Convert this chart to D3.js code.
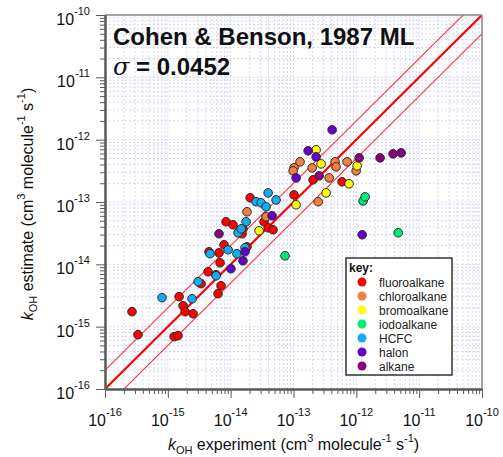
<!DOCTYPE html>
<html><head><meta charset="utf-8">
<script src="https://cdn.jsdelivr.net/npm/d3@7"></script>
<style>
body{margin:0;background:#fff}
svg{display:block}
text{font-family:"Liberation Sans",Arial,Helvetica,sans-serif}
</style>
</head><body>
<svg id="c" width="503" height="457"></svg>
<script>
// ---- data: [kOH experiment, kOH estimate] (cm3 molecule-1 s-1)
const fluoroalkane = [
  [2.69e-16,1.74e-15],[3.35e-16,7.44e-16],[1.26e-15,6.92e-16],[1.45e-15,7.18e-16],
  [1.51e-15,3.03e-15],[1.75e-15,2.17e-15],[1.88e-15,1.74e-15],[2.52e-15,1.61e-15],
  [3.38e-15,4.89e-15],[4.37e-15,7.60e-15],[4.53e-15,1.59e-14],[5.86e-15,6.81e-15],
  [6.29e-15,3.38e-15],[7.03e-15,4.54e-15],[6.78e-15,1.06e-14],[6.53e-15,1.53e-14],
  [7.85e-15,2.06e-14],[8.45e-15,4.82e-14],[1.09e-14,4.31e-14],[1.57e-14,3.72e-14],
  [1.52e-14,3.09e-14],[2.04e-14,1.17e-13],[3.40e-14,4.82e-14],[3.95e-14,3.86e-14],
  [4.73e-14,3.58e-14],[1.02e-13,1.30e-13],[2.05e-13,2.27e-13],[5.94e-13,2.11e-13],
  [1.82e-14,1.91e-14]
];
const chloroalkane = [
  [1.82e-14,6.97e-14],[3.66e-14,5.79e-14],[1.02e-13,3.53e-13],[9.86e-14,3.16e-13],
  [1.27e-13,4.41e-13],[1.98e-13,3.53e-13],[3.69e-13,2.44e-13],[4.59e-13,4.41e-13],
  [4.76e-13,3.66e-13],[7.14e-13,4.41e-13],[9.93e-13,3.16e-13],[2.47e-13,1.01e-13]
];
const bromoalkane = [
  [2.83e-14,3.45e-14],[1.10e-13,9.02e-14],[2.29e-13,6.87e-13],[2.75e-13,4.09e-13],
  [1.03e-12,3.80e-13],[7.67e-13,1.96e-13],[3.30e-13,1.40e-13]
];
const iodoalkane = [
  [7.34e-14,1.37e-14],[1.28e-12,1.04e-13],[1.38e-12,1.21e-13],[4.64e-12,3.21e-14]
];
const hcfc = [
  [8.09e-16,2.92e-15],[2.43e-15,2.81e-15],[3.03e-15,5.26e-15],[5.86e-15,6.56e-15],
  [4.70e-15,1.48e-14],[9.10e-15,1.71e-14],[1.26e-14,1.48e-14],[1.31e-14,3.21e-14],
  [1.47e-14,3.72e-14],[1.76e-14,4.82e-14],[1.69e-14,1.85e-14],[2.53e-14,1.01e-13],
  [3.05e-14,9.71e-14],[3.66e-14,8.38e-14],[3.95e-14,1.40e-13],[5.28e-14,1.08e-13]
];
const halon = [
  [1.01e-14,8.50e-15],[1.57e-14,1.14e-14],[1.69e-14,1.59e-14],[4.56e-14,6.01e-14],
  [1.10e-13,2.44e-13],[1.71e-13,6.62e-13],[2.29e-13,5.30e-13],[4.12e-13,1.44e-12],
  [1.24e-12,2.98e-14]
];
const alkane = [
  [6.53e-15,3.09e-14],[2.56e-13,2.63e-13],[1.11e-12,5.11e-13],[2.39e-12,5.11e-13],
  [3.85e-12,5.92e-13],[5.16e-12,6.14e-13]
];
const seriesNames = ["fluoroalkane","chloroalkane","bromoalkane","iodoalkane","HCFC","halon","alkane"];
const seriesData = [fluoroalkane, chloroalkane, bromoalkane, iodoalkane, hcfc, halon, alkane];
const seriesColors = ["#ff0000","#f4803f","#ffff00","#00ee77","#10aef0","#6600cc","#8b007f"];
const tickExponents = [-16,-15,-14,-13,-12,-11,-10];
const lineFactors = [0.5, 1, 2];
const titleText = "Cohen & Benson, 1987 ML";
const sigmaText = "= 0.0452";

// ---- layout
const L = 105, R = 482, T = 15, B = 389;
const svg = d3.select("#c");
const x = d3.scaleLog().domain([1e-16,1e-10]).range([L,R]);
const y = d3.scaleLog().domain([1e-16,1e-10]).range([B,T]);

// grid values
const gridVals = [];
tickExponents.forEach(k => { for (let m=1;m<=9;m++){ const v=m*Math.pow(10,k); if (v<=1.0000001e-10) gridVals.push(v);} });
const minorVals = gridVals.filter(v => !tickExponents.some(k => Math.abs(v/Math.pow(10,k)-1)<1e-6));
const majorVals = tickExponents.map(k => Math.pow(10,k));

const grid = svg.append("g");
grid.selectAll("line.gv").data(gridVals).enter().append("line")
  .attr("x1", d=>x(d)).attr("x2", d=>x(d)).attr("y1",T).attr("y2",B)
  .attr("stroke","#d6d6f7").attr("stroke-width",1).attr("stroke-dasharray","2,2");
grid.selectAll("line.gh").data(gridVals).enter().append("line")
  .attr("y1", d=>y(d)).attr("y2", d=>y(d)).attr("x1",L).attr("x2",R)
  .attr("stroke","#d6d6f7").attr("stroke-width",1).attr("stroke-dasharray","2,2");

// reference lines
const defs = svg.append("defs");
defs.append("clipPath").attr("id","pc").append("rect").attr("x",L).attr("y",T).attr("width",R-L).attr("height",B-T);
const lg = svg.append("g").attr("clip-path","url(#pc)");
lineFactors.forEach(f => {
  lg.append("line")
    .attr("x1", x(1e-17)).attr("y1", y(1e-17*f))
    .attr("x2", x(1e-9)).attr("y2", y(1e-9*f))
    .attr("stroke", "#ff0000")
    .attr("stroke-opacity", f===1 ? 1 : 0.8)
    .attr("stroke-width", f===1 ? 2.2 : 1.1);
});

// points
const pg = svg.append("g");
seriesData.forEach((arr,i) => {
  pg.selectAll(null).data(arr).enter().append("circle")
    .attr("cx", d=>x(d[0])).attr("cy", d=>y(d[1])).attr("r",4.3)
    .attr("fill", seriesColors[i]).attr("stroke","#2a2a2a").attr("stroke-width",1);
});

// frame top/right
svg.append("line").attr("x1",L).attr("x2",R).attr("y1",T).attr("y2",T).attr("stroke","#8a8a8a").attr("stroke-width",1.5);
svg.append("line").attr("x1",R).attr("x2",R).attr("y1",T).attr("y2",B).attr("stroke","#8a8a8a").attr("stroke-width",1.5);

// axes: minor + major ticks
function styleAxis(g){ g.select(".domain").attr("stroke","#5a5a5a").attr("stroke-width",2); g.selectAll(".tick line").attr("stroke","#5a5a5a").attr("stroke-width",1); g.selectAll("text").remove(); }
svg.append("g").attr("transform",`translate(0,${B})`).call(d3.axisBottom(x).tickValues(minorVals).tickSize(5).tickSizeOuter(0)).call(styleAxis);
svg.append("g").attr("transform",`translate(0,${B})`).call(d3.axisBottom(x).tickValues(majorVals).tickSize(9).tickSizeOuter(0)).call(styleAxis);
svg.append("g").attr("transform",`translate(${L},0)`).call(d3.axisLeft(y).tickValues(minorVals).tickSize(5).tickSizeOuter(0)).call(styleAxis);
svg.append("g").attr("transform",`translate(${L},0)`).call(d3.axisLeft(y).tickValues(majorVals).tickSize(9).tickSizeOuter(0)).call(styleAxis);

// tick labels
tickExponents.forEach(k => {
  const v = Math.pow(10,k);
  const tx = svg.append("text").attr("x", x(v)).attr("y", 426).attr("text-anchor","middle")
    .attr("font-size",16).attr("fill","#111");
  tx.append("tspan").text("10");
  tx.append("tspan").attr("dy",-10).attr("font-size",11).text(String(k));
  const ty = svg.append("text").attr("x", 90).attr("y", y(v)+10).attr("text-anchor","end")
    .attr("font-size",16).attr("fill","#111");
  ty.append("tspan").text("10");
  ty.append("tspan").attr("dy",-10).attr("font-size",11).text(String(k));
});

// axis labels
function unitLabel(t, mid){
  t.append("tspan").attr("font-style","italic").text("k");
  t.append("tspan").attr("dy",4).attr("font-size",11).text("OH");
  t.append("tspan").attr("dy",-4).text(" " + mid + " (cm");
  t.append("tspan").attr("dy",-8).attr("font-size",11).text("3");
  t.append("tspan").attr("dy",8).text(" molecule");
  t.append("tspan").attr("dy",-8).attr("font-size",11).text("-1");
  t.append("tspan").attr("dy",8).text(" s");
  t.append("tspan").attr("dy",-8).attr("font-size",11).text("-1");
  t.append("tspan").attr("dy",8).text(")");
}
const xl = svg.append("text").attr("x",(L+R)/2).attr("y",450).attr("text-anchor","middle").attr("font-size",16).attr("fill","#111");
unitLabel(xl, "experiment");
const yl = svg.append("text").attr("transform",`translate(33,${(T+B)/2+2}) rotate(-90)`).attr("text-anchor","middle").attr("font-size",16).attr("fill","#111");
unitLabel(yl, "estimate");

// title
svg.append("text").attr("x",113).attr("y",45).attr("font-size",24).attr("font-weight","bold").attr("fill","#111").text(titleText);
const st = svg.append("text").attr("x",113).attr("y",75).attr("font-size",24).attr("font-weight","bold").attr("fill","#111");
st.append("tspan").attr("font-style","italic").attr("font-weight","normal").attr("font-family","'DejaVu Serif',serif").text("σ");
st.append("tspan").text(" " + sigmaText);

// legend
const lx = 346, ly = 258, lw = 106, lh = 117;
const leg = svg.append("g");
leg.append("rect").attr("x",lx).attr("y",ly).attr("width",lw).attr("height",lh).attr("fill","#fff").attr("stroke","#333").attr("stroke-width",1.5);
leg.append("text").attr("x",lx+3).attr("y",ly+14).attr("font-size",12).attr("font-weight","bold").attr("fill","#111").text("key:");
seriesNames.forEach((n,i) => {
  const cy = ly + 24 + i*14;
  leg.append("circle").attr("cx",lx+16).attr("cy",cy).attr("r",4.5).attr("fill",seriesColors[i]);
  leg.append("text").attr("x",lx+33).attr("y",cy+4.5).attr("font-size",12).attr("fill","#222").text(n);
});
</script>
</body></html>
